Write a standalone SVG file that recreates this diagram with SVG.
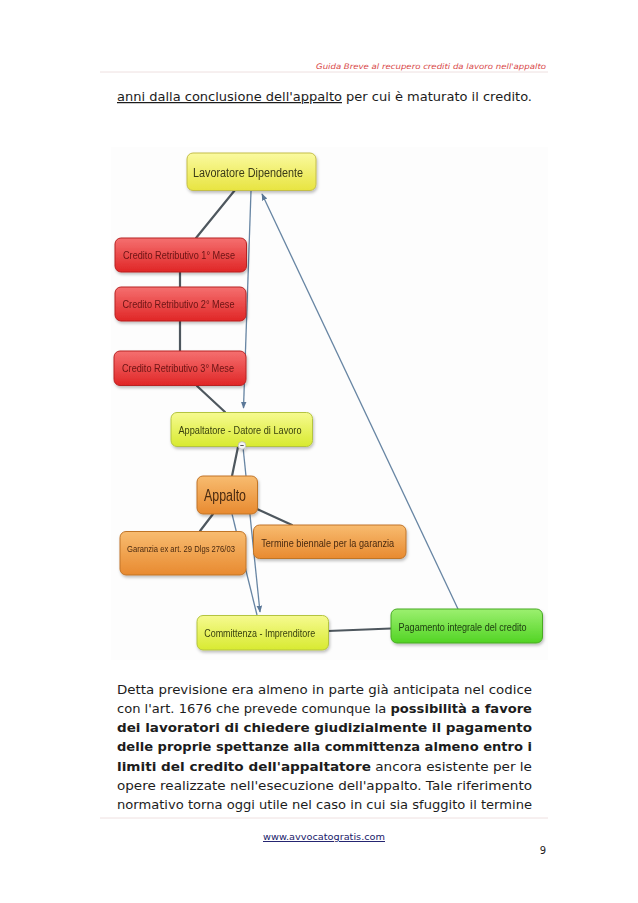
<svg xmlns="http://www.w3.org/2000/svg" width="638" height="903" viewBox="0 0 638 903">
<style>
.page{font-family:"DejaVu Sans","Liberation Sans",sans-serif;fill:#1c1c1c}
.body{font-size:12.3px}
.b{font-weight:bold}
.nl{font-family:"Liberation Sans",Arial,sans-serif;text-anchor:middle}
.dk{stroke:#4e575e;stroke-width:2.2;fill:none;stroke-linecap:round}
.bl{stroke:#6785a3;stroke-width:1.3;fill:none}
.node{filter:url(#sh)}
</style>
<defs>
<filter id="sh" x="-10%" y="-20%" width="125%" height="150%">
<feDropShadow dx="1" dy="2" stdDeviation="1.5" flood-color="#000" flood-opacity="0.25"/>
</filter>
<linearGradient id="gY" x1="0" y1="0" x2="0" y2="1"><stop offset="0" stop-color="#fafaa0"/><stop offset="1" stop-color="#e8e440"/></linearGradient>
<linearGradient id="gYG" x1="0" y1="0" x2="0" y2="1"><stop offset="0" stop-color="#f6fa90"/><stop offset="1" stop-color="#d8ea30"/></linearGradient>
<linearGradient id="gR" x1="0" y1="0" x2="0" y2="1"><stop offset="0" stop-color="#f57070"/><stop offset="1" stop-color="#e02626"/></linearGradient>
<linearGradient id="gO" x1="0" y1="0" x2="0" y2="1"><stop offset="0" stop-color="#f8bc70"/><stop offset="1" stop-color="#e88a30"/></linearGradient>
<linearGradient id="gG" x1="0" y1="0" x2="0" y2="1"><stop offset="0" stop-color="#9cf070"/><stop offset="1" stop-color="#52d424"/></linearGradient>
<marker id="ar" viewBox="0 0 10 10" refX="9" refY="5" markerWidth="7" markerHeight="7" orient="auto" markerUnits="userSpaceOnUse">
<path d="M0,1 L10,5 L0,9 Z" fill="#5b7898"/>
</marker>
</defs>
<rect width="638" height="903" fill="#ffffff"/>

<!-- header -->
<g id="header" class="page">
<text x="546" y="69" font-size="7.6" font-style="italic" text-anchor="end" textLength="230" lengthAdjust="spacingAndGlyphs" style="fill:#d84848">Guida Breve al recupero crediti da lavoro nell'appalto</text>
<line x1="100" y1="72" x2="548" y2="72" stroke="#eee0e0" stroke-width="1"/>
<text class="body" x="117" y="101" textLength="415" lengthAdjust="spacingAndGlyphs"><tspan text-decoration="underline">anni dalla conclusione dell'appalto</tspan> per cui è maturato il credito.</text>
</g>

<!-- diagram background -->
<rect x="111" y="147" width="437" height="513" fill="#fdfdfd"/>

<g id="connectors">
<path class="dk" d="M235,190 L196,238"/>
<path class="dk" d="M180,272 L180,287"/>
<path class="dk" d="M180,321 L180,351"/>
<path class="dk" d="M197,386 L225,412"/>
<path class="dk" d="M238,447 L232,476"/>
<path class="dk" d="M213,514 L200,531"/>
<path class="dk" d="M257,509 L292,525"/>
<path class="dk" d="M328,631 L391,628.5"/>
<path class="bl" d="M232,514 L257,615"/>
<path class="bl" d="M251,191 L243.5,408" marker-end="url(#ar)"/>
<path class="bl" d="M458,609 L262,194" marker-end="url(#ar)"/>
<path class="bl" d="M243,447 L260,612" marker-end="url(#ar)"/>
</g>

<g id="lavoratore" class="node">
<rect x="187" y="153" width="129" height="37.5" rx="6" fill="url(#gY)" stroke="#c4be48"/>
<text class="nl" x="248" y="176.5" font-size="12" fill="#3a3a18" textLength="110" lengthAdjust="spacingAndGlyphs">Lavoratore Dipendente</text>
</g>
<g id="credito1" class="node">
<rect x="115" y="238" width="131.5" height="34" rx="6" fill="url(#gR)" stroke="#b82222"/>
<text class="nl" x="179" y="259" font-size="11" fill="#6a1414" textLength="112" lengthAdjust="spacingAndGlyphs">Credito Retributivo 1° Mese</text>
</g>
<g id="credito2" class="node">
<rect x="115" y="287" width="131" height="34" rx="6" fill="url(#gR)" stroke="#b82222"/>
<text class="nl" x="178.5" y="308" font-size="11" fill="#6a1414" textLength="112" lengthAdjust="spacingAndGlyphs">Credito Retributivo 2° Mese</text>
</g>
<g id="credito3" class="node">
<rect x="114" y="351" width="132" height="34.5" rx="6" fill="url(#gR)" stroke="#b82222"/>
<text class="nl" x="178" y="372" font-size="11" fill="#6a1414" textLength="112" lengthAdjust="spacingAndGlyphs">Credito Retributivo 3° Mese</text>
</g>
<g id="appaltatore" class="node">
<rect x="171" y="412.5" width="141.5" height="34" rx="6" fill="url(#gYG)" stroke="#b4c440"/>
<text class="nl" x="240" y="433.5" font-size="11.5" fill="#38400e" textLength="123" lengthAdjust="spacingAndGlyphs">Appaltatore - Datore di Lavoro</text>
<circle cx="242" cy="445.5" r="3.8" fill="#f4f4f4" stroke="#b8b8b8" stroke-width="0.8"/>
<line x1="240.3" y1="445.5" x2="243.7" y2="445.5" stroke="#444" stroke-width="0.9"/>
</g>
<g id="appalto" class="node">
<rect x="197" y="476" width="60.5" height="38" rx="6" fill="url(#gO)" stroke="#c07428"/>
<text class="nl" x="225" y="501" font-size="16" fill="#4a2a10" textLength="42" lengthAdjust="spacingAndGlyphs">Appalto</text>
</g>
<g id="garanzia" class="node">
<rect x="120" y="531.5" width="126" height="43.5" rx="6" fill="url(#gO)" stroke="#c07428"/>
<text class="nl" x="181" y="552" font-size="9" fill="#4a2a10" textLength="108" lengthAdjust="spacingAndGlyphs">Garanzia ex art. 29  Dlgs 276/03</text>
</g>
<g id="termine" class="node">
<rect x="253.5" y="525" width="152.5" height="33.5" rx="6" fill="url(#gO)" stroke="#c07428"/>
<text class="nl" x="327.7" y="546.5" font-size="11" fill="#4a2a10" textLength="133" lengthAdjust="spacingAndGlyphs">Termine biennale per la garanzia</text>
</g>
<g id="committenza" class="node">
<rect x="197" y="615.5" width="131.5" height="34.5" rx="6" fill="url(#gYG)" stroke="#b4c440"/>
<text class="nl" x="259.7" y="637" font-size="11.5" fill="#38400e" textLength="111" lengthAdjust="spacingAndGlyphs">Committenza - Imprenditore</text>
</g>
<g id="pagamento" class="node">
<rect x="391" y="609" width="151.5" height="34" rx="6" fill="url(#gG)" stroke="#48aa24"/>
<text class="nl" x="462.5" y="630.5" font-size="11.5" fill="#1c3a10" textLength="128" lengthAdjust="spacingAndGlyphs">Pagamento integrale del credito</text>
</g>

<!-- body paragraph -->
<g id="paragraph" class="page body">
<text x="117" y="693.5" textLength="415" lengthAdjust="spacingAndGlyphs">Detta previsione era almeno in parte già anticipata nel codice</text>
<text x="117" y="712.8" textLength="415" lengthAdjust="spacingAndGlyphs">con l'art. 1676 che prevede comunque la <tspan class="b">possibilità a favore</tspan></text>
<text x="117" y="732.1" class="b" textLength="415" lengthAdjust="spacingAndGlyphs">dei lavoratori di chiedere giudizialmente il pagamento</text>
<text x="117" y="751.4" class="b" textLength="415" lengthAdjust="spacingAndGlyphs">delle proprie spettanze alla committenza almeno entro i</text>
<text x="117" y="770.7" textLength="415" lengthAdjust="spacingAndGlyphs"><tspan class="b">limiti del credito dell'appaltatore</tspan> ancora esistente per le</text>
<text x="117" y="790" textLength="415" lengthAdjust="spacingAndGlyphs">opere realizzate nell'esecuzione dell'appalto. Tale riferimento</text>
<text x="117" y="809.3" textLength="415" lengthAdjust="spacingAndGlyphs">normativo torna oggi utile nel caso in cui sia sfuggito il termine</text>
</g>

<!-- footer -->
<g id="footer" class="page">
<line x1="100" y1="818" x2="548" y2="818" stroke="#eee0e0" stroke-width="1"/>
<text x="324" y="840" font-size="9.5" text-anchor="middle" text-decoration="underline" textLength="122" lengthAdjust="spacingAndGlyphs" style="fill:#1a1a6a">www.avvocatogratis.com</text>
<text x="543" y="854" font-size="10" text-anchor="middle">9</text>
</g>
</svg>
